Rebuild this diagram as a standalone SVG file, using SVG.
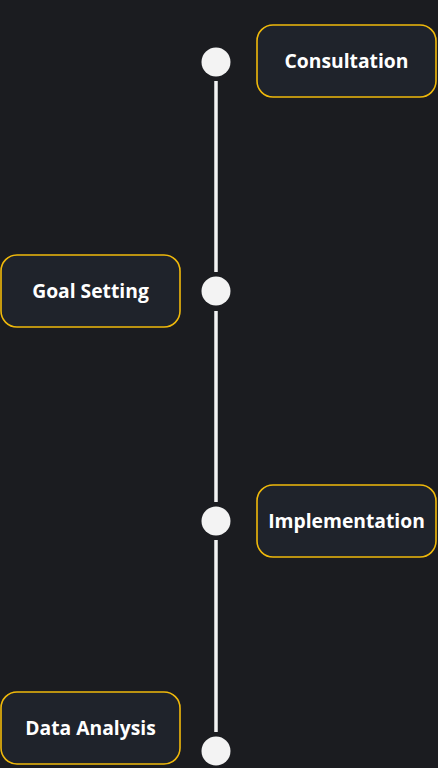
<svg xmlns="http://www.w3.org/2000/svg" width="438" height="768" viewBox="0 0 438 768">
  <style>
    .box { fill: #1f232b; stroke: #f0b90b; stroke-width: 1.6; }
    .lbl { fill: #ffffff; font-family: "Open Sans", "DejaVu Sans", sans-serif; font-weight: 700; font-size: 19.3px; text-anchor: middle; dominant-baseline: central; }
    .dot { fill: #f3f3f3; }
    .line { stroke: #f3f3f3; stroke-width: 3.5; fill: none; }
  </style>
  <rect width="438" height="768" fill="#1b1c20"/>
  <g id="connectors">
    <line class="line" x1="216" y1="81" x2="216" y2="272"/>
    <line class="line" x1="216" y1="311" x2="216" y2="502"/>
    <line class="line" x1="216" y1="540" x2="216" y2="732"/>
  </g>
  <g id="dots">
    <circle class="dot" cx="216" cy="62" r="14.5"/>
    <circle class="dot" cx="216" cy="291" r="14.5"/>
    <circle class="dot" cx="216" cy="521" r="14.5"/>
    <circle class="dot" cx="216" cy="751" r="14.5"/>
  </g>
  <g id="consultation">
    <rect class="box" x="257" y="25" width="179" height="72" rx="16"/>
    <text class="lbl" x="346.5" y="60">Consultation</text>
  </g>
  <g id="goal-setting">
    <rect class="box" x="1" y="255" width="179" height="72" rx="16"/>
    <text class="lbl" x="90.5" y="290">Goal Setting</text>
  </g>
  <g id="implementation">
    <rect class="box" x="257" y="485" width="179" height="72" rx="16"/>
    <text class="lbl" x="346.5" y="520">Implementation</text>
  </g>
  <g id="data-analysis">
    <rect class="box" x="1" y="692" width="179" height="72" rx="16"/>
    <text class="lbl" x="90.5" y="727">Data Analysis</text>
  </g>
</svg>
